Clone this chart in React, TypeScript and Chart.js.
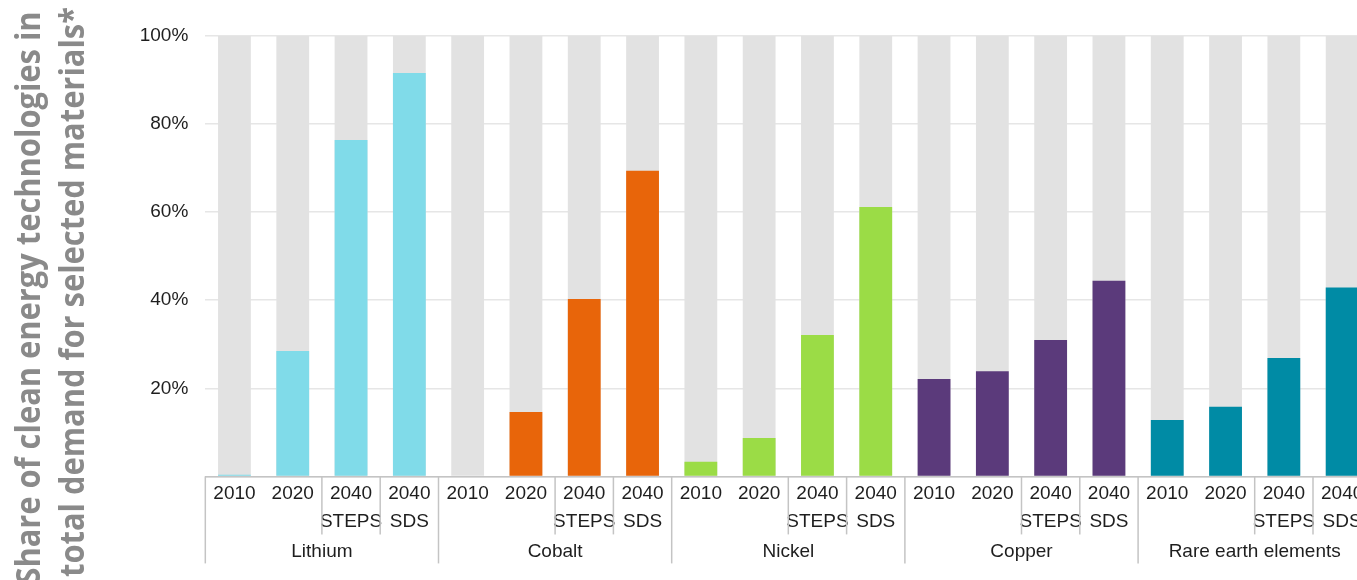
import React, { useEffect, useRef } from "react";
import { Chart, registerables } from "chart.js";

Chart.register(...registerables);

const categoryLabels: string[][] = [
  ["2010"], ["2020"], ["2040", "STEPS"], ["2040", "SDS"],
  ["2010"], ["2020"], ["2040", "STEPS"], ["2040", "SDS"],
  ["2010"], ["2020"], ["2040", "STEPS"], ["2040", "SDS"],
  ["2010"], ["2020"], ["2040", "STEPS"], ["2040", "SDS"],
  ["2010"], ["2020"], ["2040", "STEPS"], ["2040", "SDS"],
];

const materials = ["Lithium", "Cobalt", "Nickel", "Copper", "Rare earth elements"];

const cleanEnergyShare = [
  0.4, 28.5, 76.4, 91.6,
  0, 14.6, 40.3, 69.4,
  3.3, 8.7, 32.1, 61.2,
  22.1, 23.9, 31.0, 44.4,
  12.8, 15.8, 26.9, 42.9,
];

const totalDemand = [
  100, 100, 100, 100,
  100, 100, 100, 100,
  100, 100, 100, 100,
  100, 100, 100, 100,
  100, 100, 100, 100,
];

const yTicks = [0, 20, 40, 60, 80, 100];

const titleLines = [
  "Share of clean energy technologies in",
  "total demand for selected materials*",
];

const materialColors = ["#80dbe9", "#e8650a", "#9bdc46", "#5b3a7b", "#008ba5"];

const TEXT_COLOR = "#1e1e1e";
const LINE_COLOR = "#c4c4c4";
const FONT = '"Liberation Sans", Arial, sans-serif';

const overlayPlugin = {
  id: "overlayPlugin",
  afterDraw(chart: any) {
    const ctx = chart.ctx as CanvasRenderingContext2D;
    const x = chart.scales.x;
    const bottom = chart.chartArea.bottom;
    ctx.save();
    // separators
    ctx.strokeStyle = LINE_COLOR;
    ctx.lineWidth = 1.5;
    const per = 4;
    for (let b = 0; b <= categoryLabels.length; b++) {
      const pos = b % per;
      let len = 0;
      if (pos === 0) len = 87;
      else if (pos === 2 || pos === 3) len = 58;
      if (!len) continue;
      const px = x.getPixelForValue(b - 0.5);
      ctx.beginPath();
      ctx.moveTo(px, bottom);
      ctx.lineTo(px, bottom + len);
      ctx.stroke();
    }
    // group labels
    ctx.fillStyle = TEXT_COLOR;
    ctx.font = `19px ${FONT}`;
    ctx.textAlign = "center";
    ctx.textBaseline = "middle";
    materials.forEach((m, g) => {
      const px = x.getPixelForValue(g * per + 1.5);
      ctx.fillText(m, px, bottom + 75);
    });
    // y title
    ctx.fillStyle = "#8a8a8a";
    ctx.font = 'bold 34px "Open Sans", "Noto Sans", sans-serif';
    ctx.textAlign = "center";
    ctx.textBaseline = "alphabetic";
    const w2 = ctx.measureText(titleLines[1]).width;
    const s = 570 / w2;
    const baselines = [40, 84];
    const centers = [298, 292];
    titleLines.forEach((t, i) => {
      ctx.save();
      ctx.translate(baselines[i], centers[i]);
      ctx.rotate(-Math.PI / 2);
      ctx.scale(s, 1);
      ctx.fillText(t, 0, 0);
      ctx.restore();
    });
    ctx.restore();
  },
};

export default function App() {
  const canvasRef = useRef<HTMLCanvasElement | null>(null);

  useEffect(() => {
    if (!canvasRef.current) return;
    const chart = new Chart(canvasRef.current, {
      type: "bar",
      data: {
        labels: categoryLabels,
        datasets: [
          {
            label: "Clean energy technologies",
            data: cleanEnergyShare,
            backgroundColor: cleanEnergyShare.map((_, i) => materialColors[Math.floor(i / 4)]),
            borderWidth: 0,
            grouped: false,
            order: 0,
            categoryPercentage: 1,
            barPercentage: 0.563,
          },
          {
            label: "Total demand",
            data: totalDemand,
            backgroundColor: "#e2e2e2",
            borderWidth: 0,
            grouped: false,
            order: 1,
            categoryPercentage: 1,
            barPercentage: 0.563,
          },
        ],
      },
      options: {
        animation: false,
        responsive: true,
        maintainAspectRatio: false,
        devicePixelRatio: 1,
        layout: { padding: { top: 36, right: 24.7, left: 0, bottom: 0 } },
        plugins: {
          legend: { display: false },
          tooltip: { enabled: false },
        },
        scales: {
          x: {
            type: "category",
            grid: { display: false, drawTicks: false },
            border: { display: true, color: LINE_COLOR, width: 1.5 },
            ticks: {
              autoSkip: false,
              maxRotation: 0,
              minRotation: 0,
              padding: 3,
              color: TEXT_COLOR,
              font: { family: FONT, size: 19, lineHeight: 1.474 },
            },
            afterFit: (scale: any) => {
              scale.height = 103.6;
            },
          },
          y: {
            min: 0,
            max: 100,
            afterBuildTicks: (scale: any) => {
              scale.ticks = yTicks.map((v) => ({ value: v }));
            },
            grid: { color: "#e6e6e6", lineWidth: 1.5, drawTicks: false },
            border: { display: false },
            ticks: {
              padding: 17,
              color: TEXT_COLOR,
              font: { family: FONT, size: 19 },
              callback: (v: any) => (Number(v) === 0 ? "" : `${v}%`),
            },
            afterFit: (scale: any) => {
              scale.width = 205.3;
            },
          },
        },
      },
      plugins: [overlayPlugin],
    });
    return () => chart.destroy();
  }, []);

  return (
    <div
      style={{
        position: "fixed",
        left: 0,
        top: 0,
        width: "100vw",
        height: 580,
        overflow: "hidden",
        background: "#ffffff",
      }}
    >
      <div style={{ position: "relative", width: 1396, height: 580 }}>
        <canvas ref={canvasRef} />
      </div>
    </div>
  );
}
